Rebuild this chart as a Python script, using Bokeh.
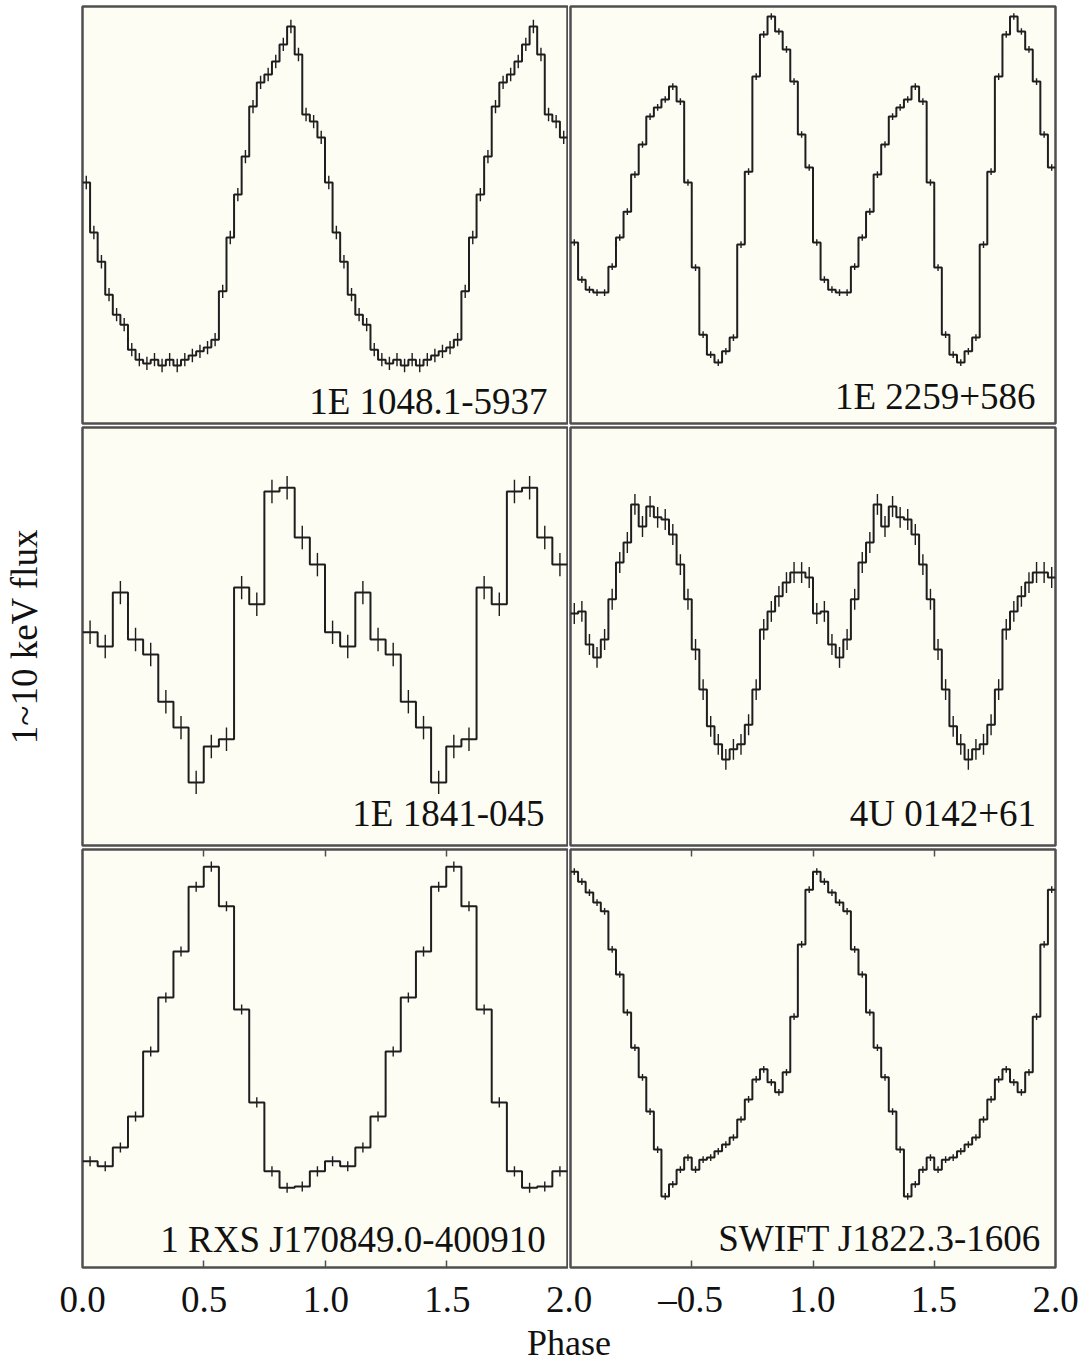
import numpy as np
from bokeh.plotting import figure
from bokeh.models import Range1d, FixedTicker, LinearAxis, Label
from bokeh.layouts import column, row
from bokeh.embed import file_html
from bokeh.resources import INLINE

# ---------------- data (one pulse cycle per source, arbitrary flux units) -------------
names = ["1E 1048.1-5937", "1E 2259+586", "1E 1841-045",
         "4U 0142+61", "1 RXS J170849.0-400910", "SWIFT J1822.3-1606"]

flux_1e1048 = [57.8, 45.8, 38.8, 30.9, 26.1, 23.7, 17.7, 15.3, 14.4, 15.3, 13.9, 15.3,
               13.9, 15.3, 16.3, 17.3, 18.2, 20.1, 31.7, 44.6, 54.9, 64.0, 76.0, 81.8,
               83.7, 86.8, 90.9, 95.2, 88.5, 74.1, 72.4, 68.6]
flux_1e2259 = [43.4, 34.5, 32.1, 31.4, 31.4, 37.6, 44.6, 50.8, 59.7, 66.9, 73.6, 75.8,
               77.7, 80.8, 77.2, 57.8, 37.4, 21.3, 16.5, 14.6, 17.3, 20.6, 42.9, 60.4,
               83.2, 93.3, 97.6, 94.0, 89.7, 82.0, 69.3, 61.4]
flux_1e1841 = [51.0, 47.6, 60.5, 49.3, 45.7, 34.4, 28.2, 15.1, 23.7, 25.4, 61.7, 57.7,
               84.7, 85.6, 73.7, 67.2]
flux_4u0142 = [55.5, 56.0, 48.1, 45.0, 49.3, 58.9, 67.7, 72.5, 81.6, 76.3, 81.1, 78.5,
               78.0, 74.4, 67.2, 58.9, 46.9, 37.3, 28.5, 24.2, 20.6, 23.0, 24.2, 28.9,
               37.3, 51.7, 56.0, 59.6, 62.9, 65.3, 65.3, 64.1]
flux_rxs1708 = [25.4, 24.2, 28.7, 36.1, 51.7, 64.6, 75.6, 91.1, 95.9, 86.4, 61.7, 39.5,
                23.0, 19.1, 19.4, 23.0]
flux_swift1822 = [94.7, 92.3, 89.7, 87.3, 85.2, 76.1, 70.1, 61.0, 52.6, 45.5, 37.3, 28.2,
                  17.0, 19.9, 23.4, 26.3, 23.4, 25.8, 26.3, 27.8, 29.4, 31.1, 35.4, 40.2,
                  45.0, 47.4, 44.3, 41.9, 46.7, 60.0, 77.3, 90.4]

# error bar half-heights (same units)
errors = [1.6, 0.8, 2.8, 2.5, 1.2, 0.8]

profiles = [flux_1e1048, flux_1e2259, flux_1e1841, flux_4u0142, flux_rxs1708, flux_swift1822]

# tick labels of the shared phase axis
left_ticks = [0, 0.5, 1, 1.5]
left_tick_labels = ["0.0", "0.5", "1.0", "1.5"]
boundary_tick_label = "2.0"
right_ticks = [0.5, 1, 1.5, 2]
right_tick_labels = ["\u20130.5", "1.0", "1.5", "2.0"]
x_label = "Phase"
y_label = "1~10 keV flux"

# ---------------- styles ----------------
FONT = "Liberation Serif"
LINE = "#1e1e1e"
FRAME = "#4f4f4f"
BG = "#fdfdf4"
TXT = "#111111"

COL_W = [568, 512]
COL_BL = [82, 2]
COL_BR = [1, 25]
ROW_H = [425, 422, 422]
ROW_BT = [6, 2, 2]
ROW_BB = [2, 2, 2]
# (x, y) of each name label, data units
label_pos = [(1.918, 5.3), (1.918, 6.5), (1.905, 7.7), (1.92, 7.7), (1.91, 6.7), (1.94, 6.9)]


def hide_labels(a):
    a.major_label_text_font_size = "1px"
    a.major_label_text_color = None
    a.major_label_standoff = 0


def make_panel(idx):
    r, c = divmod(idx, 2)
    cycle = profiles[idx]
    vals = cycle + cycle
    n = len(vals)
    edges = np.linspace(0.0, 2.0, n + 1)
    centers = 0.5 * (edges[:-1] + edges[1:])
    err = errors[idx]

    bottom = (r == 2)
    ylab = (r == 1 and c == 0)
    p = figure(width=COL_W[c], height=ROW_H[r], x_range=Range1d(0, 2), y_range=Range1d(0, 100),
               output_backend="svg", toolbar_location=None, title=None,
               x_axis_location="below" if bottom else None,
               y_axis_location="left" if ylab else None,
               min_border_left=COL_BL[c], min_border_right=COL_BR[c],
               min_border_top=ROW_BT[r], min_border_bottom=ROW_BB[r])
    p.background_fill_color = BG
    p.border_fill_color = "white"
    p.outline_line_color = FRAME
    p.outline_line_width = 2.5
    p.xgrid.visible = False
    p.ygrid.visible = False

    xs = list(edges)
    ys = vals + [vals[-1]]
    p.step(x=xs, y=ys, mode="after", line_color=LINE, line_width=2.0)
    p.segment(x0=centers, y0=[v - err for v in vals], x1=centers, y1=[v + err for v in vals],
              line_color=LINE, line_width=1.4)

    lx, ly = label_pos[idx]
    p.add_layout(Label(x=lx, y=ly, text=names[idx], text_align="right",
                       text_baseline="alphabetic", text_font=FONT,
                       text_font_size="37px", text_color=TXT))

    if bottom:
        ax = p.xaxis[0]
        top_ax = LinearAxis()
        p.add_layout(top_ax, "above")
        for a in (ax, top_ax):
            a.ticker = FixedTicker(ticks=[0.5, 1.0, 1.5])
            a.major_tick_in = 7
            a.major_tick_out = 0
            a.major_tick_line_color = FRAME
            a.major_tick_line_width = 1.5
            a.minor_tick_line_color = None
            a.axis_line_color = None
            hide_labels(a)
    if ylab:
        ay = p.yaxis[0]
        ay.ticker = FixedTicker(ticks=[])
        ay.axis_line_color = None
        ay.major_tick_line_color = None
        ay.minor_tick_line_color = None
        hide_labels(ay)
        ay.axis_label = y_label
        ay.axis_label_text_font = FONT
        ay.axis_label_text_font_size = "37px"
        ay.axis_label_text_font_style = "normal"
        ay.axis_label_text_color = TXT
        ay.axis_label_standoff = 38
    return p


panels = [make_panel(i) for i in range(6)]

# ---------------- shared phase axis strip ----------------
strip = figure(width=1080, height=93, x_range=Range1d(0, 4), y_range=Range1d(0, 1),
               output_backend="svg", toolbar_location=None, title=None,
               x_axis_location="below", y_axis_location=None,
               min_border_left=82, min_border_right=25, min_border_top=0, min_border_bottom=0)
strip.outline_line_color = None
strip.background_fill_color = "white"
strip.border_fill_color = "white"
strip.xgrid.visible = False
strip.ygrid.visible = False
overrides = {}
for t, s in zip(left_ticks, left_tick_labels):
    overrides[t] = s
overrides[2] = boundary_tick_label
for t, s in zip(right_ticks, right_tick_labels):
    overrides[2 + t] = s
overrides = {(int(k) if float(k).is_integer() else k): v for k, v in overrides.items()}
sa = strip.xaxis[0]
sa.ticker = FixedTicker(ticks=sorted(overrides.keys()))
sa.major_label_overrides = overrides
sa.axis_line_color = None
sa.major_tick_line_color = None
sa.minor_tick_line_color = None
sa.major_label_text_font = FONT
sa.major_label_text_font_size = "37px"
sa.major_label_text_color = TXT
sa.major_label_standoff = 3
sa.axis_label = x_label
sa.axis_label_text_font = FONT
sa.axis_label_text_font_size = "36px"
sa.axis_label_text_font_style = "normal"
sa.axis_label_text_color = TXT
sa.axis_label_standoff = 0

layout = column(row(panels[0], panels[1]), row(panels[2], panels[3]),
                row(panels[4], panels[5]), strip)

open("out.html", "w").write(file_html(layout, INLINE))
